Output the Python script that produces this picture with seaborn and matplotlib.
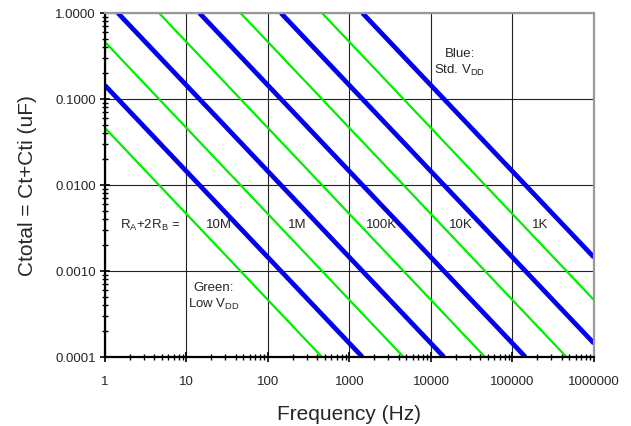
import matplotlib
matplotlib.use("Agg")
import matplotlib.pyplot as plt
import matplotlib.ticker as mticker
import seaborn as sns
import pandas as pd

# --- data (line endpoints, log-log straight lines) ---
# Blue (Std. VDD) lines: RA+2RB = 10M, 1M, 100K, 10K, 1K
blue_names = ["10M", "1M", "100K", "10K", "1K"]
blue_freq = [[1, 1440], [1.44, 14400], [14.4, 144000], [144, 1000000], [1440, 1000000]]
blue_cap = [[0.144, 0.0001], [1.0, 0.0001], [1.0, 0.0001], [1.0, 0.000144], [1.0, 0.00144]]

# Green (Low VDD) lines
green_names = ["10M", "1M", "100K", "10K", "1K"]
green_freq = [[1, 460], [1, 4600], [4.6, 46000], [46, 460000], [460, 1000000]]
green_cap = [[0.046, 0.0001], [0.46, 0.0001], [1.0, 0.0001], [1.0, 0.0001], [1.0, 0.00046]]

x_ticks = [1, 10, 100, 1000, 10000, 100000, 1000000]
x_tick_labels = ["1", "10", "100", "1000", "10000", "100000", "1000000"]
y_ticks = [0.0001, 0.001, 0.01, 0.1, 1.0]
y_tick_labels = ["0.0001", "0.0010", "0.0100", "0.1000", "1.0000"]

r_labels = ["10M", "1M", "100K", "10K", "1K"]
r_label_x = [25, 227, 2500, 23400, 218000]

sns.set_style("white")
plt.rcParams["font.family"] = ["Liberation Sans", "DejaVu Sans"]
plt.rcParams["mathtext.fontset"] = "custom"
plt.rcParams["mathtext.rm"] = "Liberation Sans"
plt.rcParams["mathtext.it"] = "Liberation Sans:italic"

fig = plt.figure(figsize=(6.31, 4.27), dpi=100)
ax = fig.add_axes([105 / 631, 1 - 358 / 427, 489 / 631, 344 / 427])

rows = []
for i, (fx, cy) in enumerate(zip(green_freq, green_cap)):
    for f, c in zip(fx, cy):
        rows.append({"line": f"g{i}", "kind": "green", "freq": f, "cap": c})
for i, (fx, cy) in enumerate(zip(blue_freq, blue_cap)):
    for f, c in zip(fx, cy):
        rows.append({"line": f"b{i}", "kind": "blue", "freq": f, "cap": c})
df = pd.DataFrame(rows)

for name, sub in df.groupby("line", sort=False):
    kind = sub["kind"].iloc[0]
    sns.lineplot(data=sub, x="freq", y="cap", ax=ax, sort=False, estimator=None,
                 color="#00EE00" if kind == "green" else "#0000EE",
                 lw=1.6 if kind == "green" else 3.4, solid_capstyle="butt",
                 legend=False, zorder=3)

ax.set_xscale("log")
ax.set_yscale("log")
ax.set_xlim(1, 1e6)
ax.set_ylim(1e-4, 1)

ax.set_xticks(x_ticks)
ax.set_xticklabels(x_tick_labels)
ax.set_yticks(y_ticks)
ax.set_yticklabels(y_tick_labels)
ax.xaxis.set_minor_locator(mticker.LogLocator(base=10, subs=range(2, 10), numticks=20))
ax.yaxis.set_minor_locator(mticker.LogLocator(base=10, subs=range(2, 10), numticks=20))
ax.xaxis.set_minor_formatter(mticker.NullFormatter())
ax.yaxis.set_minor_formatter(mticker.NullFormatter())

ax.tick_params(axis="both", which="major", direction="inout", length=7, width=1.2,
               labelsize=9.5, color="black", pad=3)
ax.tick_params(axis="x", which="major", pad=9.5)
ax.tick_params(axis="both", which="minor", direction="inout", length=5, width=1.0,
               color="black")
ax.tick_params(axis="x", which="both", bottom=True, top=False)
ax.tick_params(axis="y", which="both", left=True, right=False)

ax.grid(True, which="major", color="#222222", lw=0.8, zorder=1)
ax.set_axisbelow(True)

for s in ["left", "bottom"]:
    ax.spines[s].set_color("black")
    ax.spines[s].set_linewidth(1.6)
    ax.spines[s].set_zorder(5)
for s in ["top", "right"]:
    ax.spines[s].set_color("#999999")
    ax.spines[s].set_linewidth(1.6)
    ax.spines[s].set_zorder(5)

ax.set_xlabel("Frequency (Hz)", fontsize=15, labelpad=12)
ax.set_ylabel("Ctotal = Ct+Cti (uF)", fontsize=15, labelpad=13)

fs = 9.5
ax.text(3.56, 0.00352, r"R$_\mathregular{A}$+2R$_\mathregular{B}$ =", fontsize=fs,
        ha="center", va="center", zorder=4)
for lab, xv in zip(r_labels, r_label_x):
    ax.text(xv, 0.00352, lab, fontsize=fs, ha="center", va="center", zorder=4)
ax.text(22700, 0.27, "Blue:\nStd. V$_\\mathregular{DD}$", fontsize=fs, ha="center",
        va="center", linespacing=1.2, zorder=4)
ax.text(21.7, 0.00051, "Green:\nLow V$_\\mathregular{DD}$", fontsize=fs, ha="center",
        va="center", linespacing=1.2, zorder=4)

fig.savefig("out.png", dpi=100)
